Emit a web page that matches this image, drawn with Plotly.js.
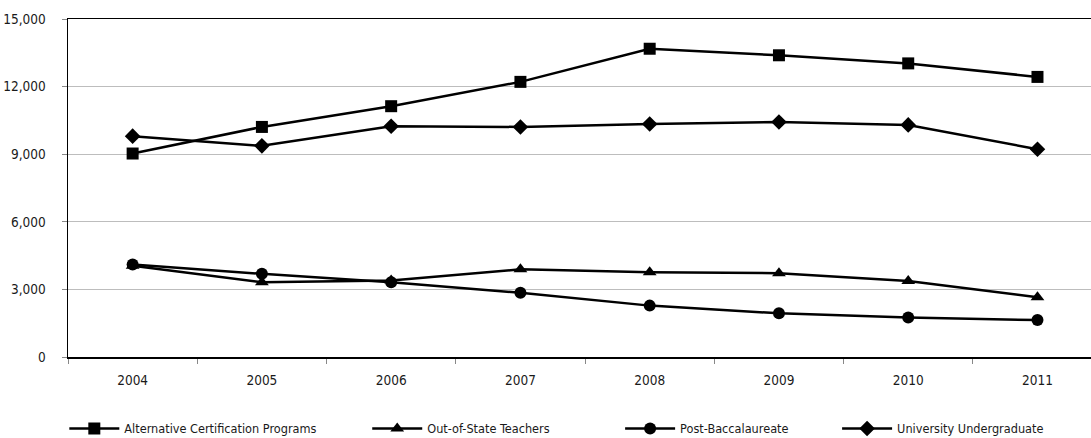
<!DOCTYPE html>
<html>
<head>
<meta charset="utf-8">
<script src="https://cdn.plot.ly/plotly-3.0.1.min.js"></script>
<style>html,body{margin:0;padding:0;background:#fff;}#chart{width:1091px;height:438px;}</style>
</head>
<body>
<div id="chart"></div>
<script>
const years = ['2004','2005','2006','2007','2008','2009','2010','2011'];
const alternativeCertification = [9030, 10210, 11130, 12210, 13680, 13390, 13030, 12430];
const outOfStateTeachers = [4050, 3320, 3400, 3890, 3760, 3720, 3370, 2650];
const postBaccalaureate = [4110, 3690, 3320, 2850, 2280, 1940, 1750, 1640];
const universityUndergraduate = [9800, 9370, 10240, 10210, 10340, 10430, 10300, 9220];
const seriesNames = ['Alternative Certification Programs', 'Out-of-State Teachers', 'Post-Baccalaureate', 'University Undergraduate'];
const yTicks = [0, 3000, 6000, 9000, 12000, 15000];

const FONT = '"DejaVu Sans Condensed", "Liberation Sans Narrow", "Liberation Sans", Arial, sans-serif';

function mk(name, y, symbol, legendId) {
  return {
    type: 'scatter', mode: 'lines+markers', name: name,
    x: years, y: y,
    line: {color: '#000', width: 2.5},
    marker: {symbol: symbol, size: 12, color: '#000'},
    legend: legendId,
    hoverinfo: 'skip'
  };
}

const data = [
  mk(seriesNames[0], alternativeCertification, 'square', 'legend'),
  mk(seriesNames[1], outOfStateTeachers, 'triangle-up', 'legend2'),
  mk(seriesNames[2], postBaccalaureate, 'circle', 'legend3'),
  mk(seriesNames[3], universityUndergraduate, 'diamond', 'legend4')
];

function lg(x) {
  return {
    orientation: 'h', x: x, xanchor: 'left',
    yref: 'container', y: 0.021, yanchor: 'middle',
    font: {family: FONT, size: 12.6, color: '#1a1a1a'},
    itemwidth: 50, bgcolor: 'rgba(0,0,0,0)', borderwidth: 0,
    itemclick: false, itemdoubleclick: false
  };
}

const layout = {
  width: 1091, height: 438,
  margin: {l: 68, r: 0, t: 19, b: 81, pad: 0},
  paper_bgcolor: '#fff', plot_bgcolor: '#fff',
  font: {family: FONT, size: 13.5, color: '#1a1a1a'},
  showlegend: true,
  xaxis: {
    type: 'category', range: [-0.5, 7.414],
    tickson: 'boundaries', ticks: 'outside', ticklen: 5, tickcolor: '#888', tickwidth: 1,
    showgrid: false, showline: true, linecolor: '#000', linewidth: 1.5,
    mirror: true, zeroline: false,
    tickfont: {family: FONT, size: 13.5, color: '#1a1a1a'},
    ticklabelstandoff: 10
  },
  yaxis: {
    range: [0, 15000], tickvals: yTicks, tickformat: ',d',
    ticks: 'outside', ticklen: 5, tickcolor: '#888', tickwidth: 1,
    showgrid: true, gridcolor: '#bdbdbd', gridwidth: 1,
    showline: true, linecolor: '#000', linewidth: 1.5, zeroline: false,
    tickfont: {family: FONT, size: 13.5, color: '#1a1a1a'},
    ticklabelstandoff: 13
  },
  legend: lg(-0.0036),
  legend2: lg(0.2925),
  legend3: lg(0.5397),
  legend4: lg(0.7518)
};

Plotly.newPlot('chart', data, layout, {displayModeBar: false, staticPlot: true});
</script>
</body>
</html>
